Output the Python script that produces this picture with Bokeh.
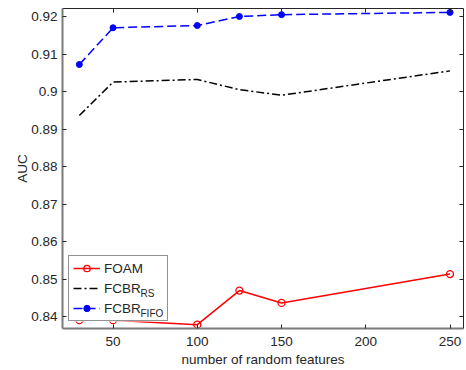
from bokeh.plotting import figure
from bokeh.models import Range1d, LinearAxis, FixedTicker, Legend, LegendItem, Label, BoxAnnotation
from bokeh.embed import file_html
from bokeh.resources import INLINE

x = [30, 50, 100, 125, 150, 250]
foam = [0.8391, 0.8391, 0.8379, 0.8470, 0.8437, 0.8514]
fcbr_rs = [0.8937, 0.9026, 0.9033, 0.9006, 0.8991, 0.9056]
fcbr_fifo = [0.9073, 0.9171, 0.9177, 0.9201, 0.9206, 0.9212]
x_ticks = [50, 100, 150, 200, 250]
y_ticks = [0.84, 0.85, 0.86, 0.87, 0.88, 0.89, 0.9, 0.91, 0.92]
y_tick_labels = ["0.84", "0.85", "0.86", "0.87", "0.88", "0.89", "0.9", "0.91", "0.92"]

FONT = "Liberation Sans"
AX = "#262626"

p = figure(width=466, height=370,
           output_backend="svg", toolbar_location=None,
           x_range=Range1d(20, 258), y_range=Range1d(0.83688, 0.92224),
           min_border_left=62, min_border_right=3, min_border_top=8, min_border_bottom=42)
p.xgrid.visible = False
p.ygrid.visible = False
p.outline_line_color = None
p.background_fill_color = "white"
p.border_fill_color = "white"

def style_axis(ax, labels=True):
    ax.axis_line_color = AX
    ax.major_tick_line_color = AX
    ax.major_tick_in = 4
    ax.major_tick_out = 0
    ax.minor_tick_line_color = None
    ax.major_label_text_font = FONT
    ax.major_label_text_font_size = "13.5px"
    ax.major_label_text_color = AX
    ax.axis_label_text_font = FONT
    ax.axis_label_text_font_size = "13.5px"
    ax.axis_label_text_font_style = "normal"
    ax.axis_label_text_color = AX
    if not labels:
        ax.major_label_standoff = 0
        ax.axis_line_width = 1

p.xaxis.ticker = FixedTicker(ticks=x_ticks)
p.yaxis.ticker = FixedTicker(ticks=y_ticks)
p.yaxis.major_label_overrides = {t: l for t, l in zip(y_ticks, y_tick_labels)}
p.xaxis.axis_label = "number of random features"
p.yaxis.axis_label = "AUC"
style_axis(p.xaxis[0])
style_axis(p.yaxis[0])
p.xaxis.axis_line_color = "#7a7a7a"
p.yaxis.axis_line_color = "#7a7a7a"
p.xaxis.axis_line_width = 2
p.yaxis.axis_line_width = 2
p.xaxis.major_label_standoff = 8
p.xaxis.axis_label_standoff = 3
p.yaxis.major_label_standoff = 5
p.yaxis.axis_label_standoff = -2

ra = LinearAxis(ticker=FixedTicker(ticks=y_ticks))
style_axis(ra, labels=False)
ra.major_label_overrides = {t: "" for t in y_ticks}
p.add_layout(ra, "right")
ta = LinearAxis(ticker=FixedTicker(ticks=x_ticks))
style_axis(ta, labels=False)
ta.major_label_overrides = {t: "" for t in x_ticks}
p.add_layout(ta, "above")

l1 = p.line(x, foam, line_color="red", line_width=1.5)
m1 = p.scatter(x, foam, marker="circle", size=7, line_color="red", fill_color=None, line_width=1.3)
l2 = p.line(x, fcbr_rs, line_color="black", line_width=1.5, line_dash="8 3 2 3")
l3 = p.line(x, fcbr_fifo, line_color="blue", line_width=1.5, line_dash="9 4")
m3 = p.scatter(x, fcbr_fifo, marker="circle", size=6, line_color="blue", fill_color="blue")

# white backing for the legend box
p.add_layout(BoxAnnotation(left=6, right=103, bottom=7, top=71,
                           left_units="screen", right_units="screen",
                           bottom_units="screen", top_units="screen",
                           fill_color="white", fill_alpha=1, line_color=None,
                           level="annotation"))

legend = Legend(items=[
    LegendItem(label="FOAM", renderers=[l1, m1]),
    LegendItem(label="FCBR", renderers=[l2]),
    LegendItem(label="FCBR" + "\u00a0" * 6, renderers=[l3, m3]),
], location=(6, 7))
legend.label_text_font = FONT
legend.label_text_font_size = "13.5px"
legend.label_text_color = AX
legend.border_line_color = AX
legend.border_line_width = 1
legend.background_fill_alpha = 0
legend.glyph_width = 27
legend.glyph_height = 16
legend.label_height = 16
legend.spacing = 4
legend.padding = 4
legend.margin = 0
legend.label_standoff = 4
p.add_layout(legend, "center")

for txt, sy in [("RS", 35), ("FIFO", 15)]:
    p.add_layout(Label(x=78, y=sy, x_units="screen", y_units="screen", text=txt,
                       text_font=FONT, text_font_size="10px", text_color=AX,
                       text_baseline="middle", level="overlay"))

open("out.html", "w").write(file_html(p, INLINE))
